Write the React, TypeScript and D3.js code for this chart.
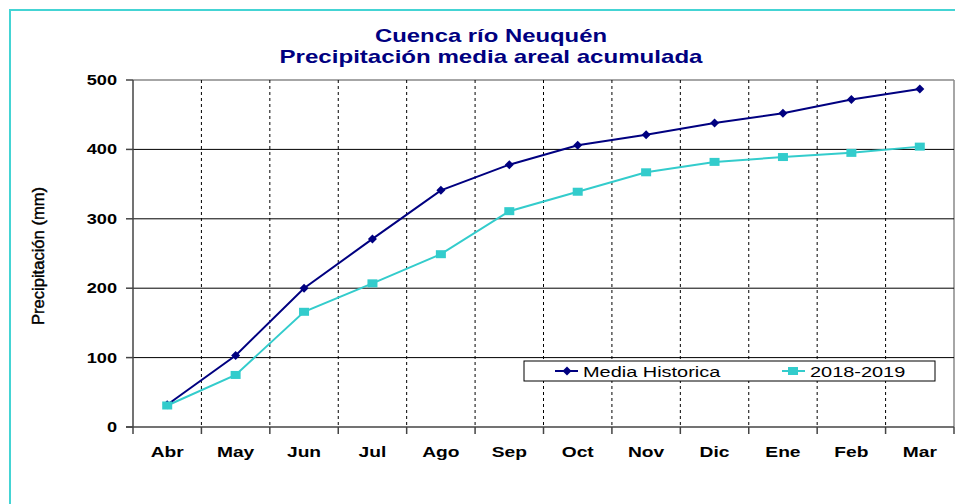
import React from "react";
import * as d3 from "d3";

const months = ["Abr", "May", "Jun", "Jul", "Ago", "Sep", "Oct", "Nov", "Dic", "Ene", "Feb", "Mar"];
const mediaHistorica = [32, 103, 200, 271, 341, 378, 406, 421, 438, 452, 472, 487];
const temporada = [31, 75, 166, 207, 249, 311, 339, 367, 382, 389, 395, 404];
const yTicks = [0, 100, 200, 300, 400, 500];
const seriesNames = ["Media Historica", "2018-2019"];
const titleLines = ["Cuenca río Neuquén", "Precipitación media areal acumulada"];
const yLabel = "Precipitación (mm)";

const W = 955;
const H = 504;
const NAVY = "#000080";
const TEAL = "#33CCCC";
const FONT = "Arial, 'Liberation Sans', Helvetica, sans-serif";

export default function App() {
  const x0 = 133;
  const x1 = 954;
  const yTop = 80;
  const yBot = 427;
  const x = d3.scaleBand<string>().domain(months).range([x0, x1]).padding(0);
  const y = d3.scaleLinear().domain([0, 500]).range([yBot, yTop]);
  const cx = (m: string) => (x(m) as number) + x.bandwidth() / 2;

  const line = d3
    .line<number>()
    .x((_, i) => cx(months[i]))
    .y((d) => y(d));

  const boundaries = months.slice(1).map((m) => x(m) as number);

  const sx = 1.3;

  const diamond = (px: number, py: number, key: string | number) => (
    <path
      key={key}
      d={`M${px},${py - 4.5}L${px + 4.5},${py}L${px},${py + 4.5}L${px - 4.5},${py}Z`}
      fill={NAVY}
    />
  );
  const square = (px: number, py: number, key: string | number) => (
    <rect key={key} x={px - 5} y={py - 4} width={10} height={8} fill={TEAL} />
  );

  return (
    <svg
      width={W}
      height={H}
      style={{ position: "absolute", left: 0, top: 0, background: "#fff" }}
      fontFamily={FONT}
    >
      <rect x={0} y={0} width={W} height={H} fill="#fff" />
      <rect x={10} y={10} width={W + 20} height={H + 20} fill="none" stroke="#44D4D4" strokeWidth={2} />

      {/* title */}
      <text x={491} y={42} textAnchor="middle" fontWeight="bold" fontSize={19} fill={NAVY}
        textLength={232} lengthAdjust="spacingAndGlyphs">{titleLines[0]}</text>
      <text x={491} y={63} textAnchor="middle" fontWeight="bold" fontSize={19} fill={NAVY}
        textLength={423} lengthAdjust="spacingAndGlyphs">{titleLines[1]}</text>

      {/* plot border (gray) */}
      <line x1={x0} x2={x1} y1={y(500)} y2={y(500)} stroke="#888" strokeWidth={1.5} />
      <line x1={x1} x2={x1} y1={y(500)} y2={yBot} stroke="#888" strokeWidth={1.5} />

      {/* horizontal gridlines */}
      {yTicks.filter((t) => t > 0 && t < 500).map((t) => (
        <line key={t} x1={x0} x2={x1} y1={y(t)} y2={y(t)} stroke="#000" strokeWidth={1} />
      ))}

      {/* vertical dashed lines */}
      {boundaries.map((bx, i) => (
        <line key={i} x1={bx} x2={bx} y1={yTop} y2={yBot} stroke="#000" strokeWidth={1} strokeDasharray="3,3" />
      ))}

      {/* axes */}
      <line x1={x0} x2={x0} y1={yTop} y2={yBot + 7} stroke="#444" strokeWidth={1.5} />
      <line x1={x0 - 7} x2={x1} y1={yBot} y2={yBot} stroke="#444" strokeWidth={1.5} />
      {yTicks.map((t) => (
        <line key={t} x1={x0 - 7} x2={x0} y1={y(t)} y2={y(t)} stroke="#444" strokeWidth={1.5} />
      ))}
      {[...boundaries, x1].map((bx, i) => (
        <line key={i} x1={bx} x2={bx} y1={yBot} y2={yBot + 7} stroke="#444" strokeWidth={1.5} />
      ))}

      {/* y tick labels */}
      {yTicks.map((t) => (
        <text key={t} transform={`translate(117,${y(t) + 5}) scale(${sx},1)`} textAnchor="end"
          fontWeight="bold" fontSize={14} fill="#000">{t}</text>
      ))}

      {/* x labels */}
      {months.map((m) => (
        <text key={m} transform={`translate(${cx(m)},457) scale(1.28,1)`} textAnchor="middle"
          fontWeight="bold" fontSize={15} fill="#000">{m}</text>
      ))}

      {/* y axis label */}
      <text transform="translate(44,256) rotate(-90)" textAnchor="middle" fontSize={16} fill="#000"
        stroke="#000" strokeWidth={0.4} textLength={138} lengthAdjust="spacingAndGlyphs">{yLabel}</text>

      {/* series */}
      <path d={line(temporada) || ""} fill="none" stroke={TEAL} strokeWidth={2} />
      <path d={line(mediaHistorica) || ""} fill="none" stroke={NAVY} strokeWidth={2} />
      {mediaHistorica.map((v, i) => diamond(cx(months[i]), y(v), "d" + i))}
      {temporada.map((v, i) => square(cx(months[i]), y(v), "s" + i))}

      {/* legend */}
      <rect x={524} y={361} width={411} height={20} fill="#fff" stroke="#000" strokeWidth={1} />
      <line x1={555} x2={578} y1={371} y2={371} stroke={NAVY} strokeWidth={2} />
      {diamond(567, 371, "ld")}
      <text transform={`translate(583,377) scale(1.33,1)`} fontSize={15} fill="#000">{seriesNames[0]}</text>
      <line x1={782} x2={805} y1={371} y2={371} stroke={TEAL} strokeWidth={2} />
      {square(793, 371, "ls")}
      <text transform={`translate(810,377) scale(1.33,1)`} fontSize={15} fill="#000">{seriesNames[1]}</text>
    </svg>
  );
}
